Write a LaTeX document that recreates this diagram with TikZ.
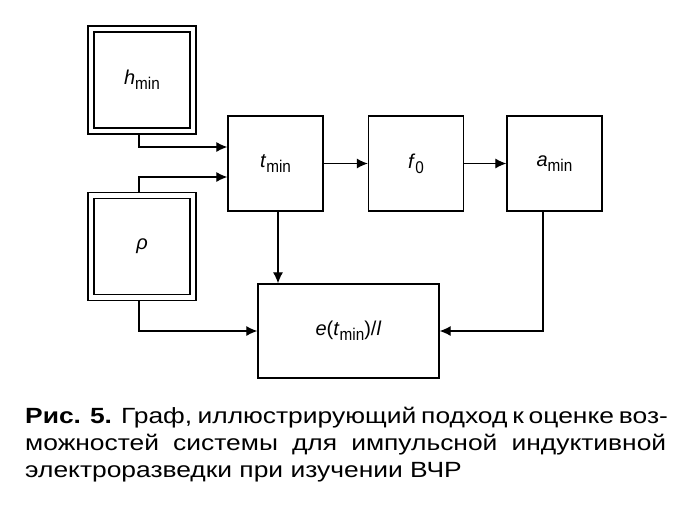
\documentclass[tikz,border=0pt]{standalone}
\usepackage{fontspec}
\setmainfont{Liberation Sans}
\newfontfamily\capfont{Liberation Sans}[FakeStretch=1.2]
\usetikzlibrary{arrows.meta}
\newcommand\subm[1]{\raisebox{-5pt}{\fontsize{17}{17}\selectfont\scalebox{0.9}[1]{#1}}}
\newcommand\lab[2]{\textit{#1}\subm{#2}}
\begin{document}
\begin{tikzpicture}[x=1pt,y=-1pt,
  blk/.style={draw,line width=1.3pt,minimum width=95pt,minimum height=95pt,inner sep=0pt,font=\fontsize{20}{20}\selectfont},
  dbl/.style={draw,line width=1.3pt,double,double distance=4.6pt,outer sep=3.6pt,minimum width=102pt,minimum height=102pt,inner sep=0pt,font=\fontsize{20}{20}\selectfont},
  arr/.style={line width=1.2pt,-{Latex[length=11pt,width=10pt]}},
  captxt/.style={anchor=base west,inner sep=0pt,font=\capfont\fontsize{22}{22}\selectfont}]
\useasboundingbox (0,0) rectangle (684,512);
\fill[white] (0,0) rectangle (684,512);
\node[dbl] (h) at (142,80) {\lab{h}{min}};
\node[dbl] (r) at (142,246.5) {\textit{ρ}};
\node[blk] (t) at (275.5,163.5) {\lab{t}{min}};
\node[blk] (f) at (416,163.5) {\lab{f}{0}};
\node[blk] (a) at (554.5,163.5) {\lab{a}{min}};
\node[draw,line width=1.3pt,minimum width=181pt,minimum height=94pt,inner sep=0pt,font=\fontsize{20}{20}\selectfont] (e) at (348.5,331) {\textit{e}(\textit{t}\subm{min})/\textit{l}};
\coordinate (c1) at (139,147);
\coordinate (c2) at (139,177);
\coordinate (c3) at (139,331);
\coordinate (c4) at (278,0);
\coordinate (c5) at (543,0);
\draw[arr] (h.south -| c1) |- (t.west |- c1);
\draw[arr] (r.north -| c2) |- (t.west |- c2);
\draw[arr] (r.south -| c3) |- (e.west);
\draw[arr] (t.south -| c4) -- (e.north -| c4);
\draw[arr] (t.east) -- (f.west);
\draw[arr] (f.east) -- (a.west);
\draw[arr] (a.south -| c5) |- (e.east);
\node[captxt] (l1) at (25,423) {\makebox[641pt][s]{\textbf{Рис. 5.} Граф, иллюстрирующий подход к оценке воз-}};
\node[captxt] (l2) at (25,450) {\makebox[641pt][s]{можностей системы для импульсной индуктивной}};
\node[captxt] (l3) at (25,477) {электроразведки при изучении ВЧР};
\end{tikzpicture}
\end{document}
